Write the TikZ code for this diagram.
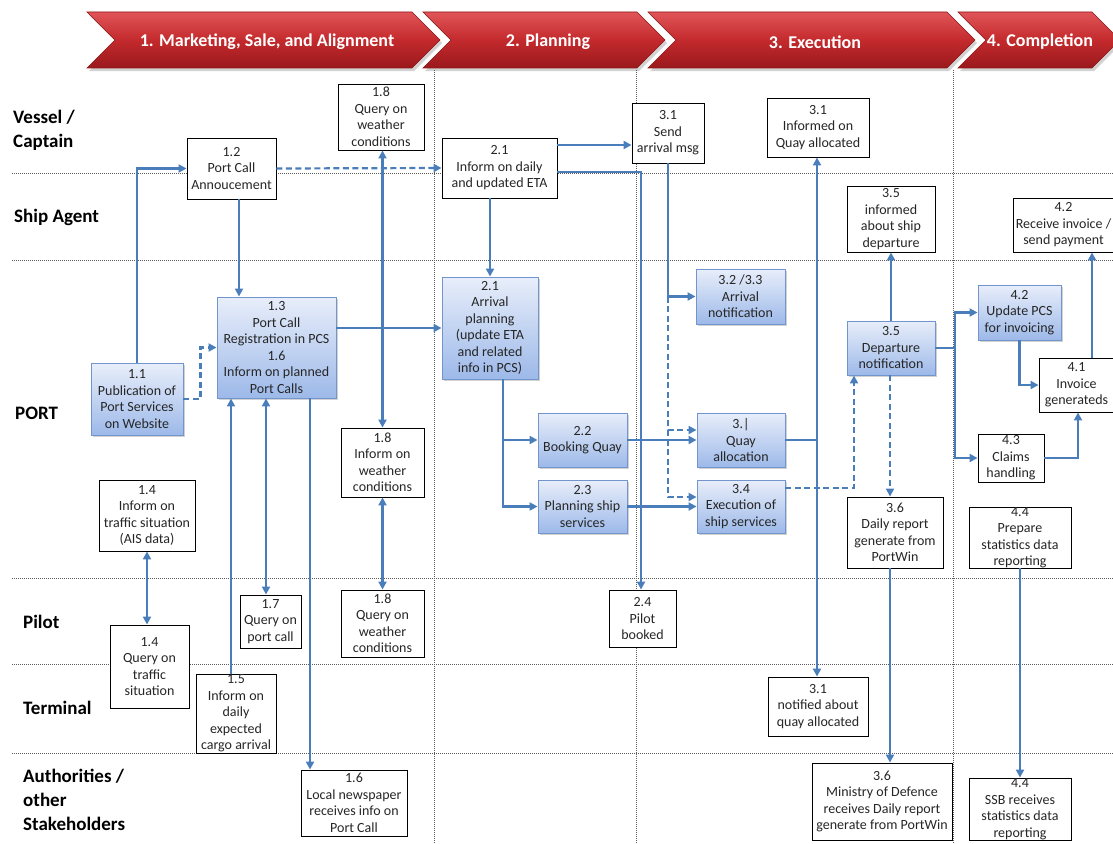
\documentclass[tikz,border=0pt]{standalone}
\usepackage{fontspec}
\setmainfont{Carlito}
\usetikzlibrary{arrows.meta,shadows,calc}
\definecolor{lineblue}{HTML}{4A7EBB}
\definecolor{bluetop}{HTML}{E8EEFA}
\definecolor{bluebot}{HTML}{9DB9E9}
\definecolor{bluebd}{HTML}{7195CC}
\definecolor{redtop}{HTML}{E05558}
\definecolor{redmid}{HTML}{C42A2D}
\definecolor{redbot}{HTML}{9A191C}
\definecolor{redbd}{HTML}{8E1518}
\definecolor{txt}{HTML}{262626}
\definecolor{lanegray}{HTML}{5A5A5A}
\tikzset{
  boxfont/.style={font=\fontsize{14}{16.5}\selectfont},
  wbox/.style={draw=black, line width=0.9pt, fill=white, align=center, inner sep=0pt, text=txt, boxfont},
  bbox/.style={draw=bluebd, line width=0.9pt, top color=bluetop, bottom color=bluebot, align=center, inner sep=0pt, text=txt, boxfont,
    drop shadow={shadow xshift=1.8pt, shadow yshift=-1.8pt, opacity=0.35, fill=gray}},
  conn/.style={draw=lineblue, line width=2.2pt, line join=miter, -{Triangle[length=8pt,width=8pt]}},
  conntwo/.style={draw=lineblue, line width=2.2pt, {Triangle[length=8pt,width=8pt]}-{Triangle[length=8pt,width=8pt]}},
  plainline/.style={draw=lineblue, line width=2.2pt, line join=miter},
  dconn/.style={conn, dash pattern=on 6pt off 3.5pt},
  laneline/.style={draw=lanegray, line width=0.8pt, dash pattern=on 1pt off 1pt},
  lanelabel/.style={font=\fontsize{19}{24}\selectfont\bfseries, anchor=west, align=left, inner sep=0pt, text=black},
  chevtext/.style={font=\fontsize{18}{20}\selectfont\bfseries, text=white, inner sep=0pt},
  chevshape/.style={top color=redtop, bottom color=redbot, middle color=redmid, draw=redbd, line width=0.6pt}
}
\newcommand\mkbox[7]{\node[#1, minimum width={(#5-#3)*1pt}, minimum height={(#6-#4)*1pt}] (#2) at ({(#3+#5)/2},{(#4+#6)/2}) {#7};}
\newcommand\mkchev[2]{%
  \fill[gray, opacity=0.35] ({#1+2},15) -- ({#2-26},15) -- ({#2+2},43) -- ({#2-26},71) -- ({#1+2},71) -- ({#1+30},43) -- cycle;
  \shade[chevshape] (#1,12) -- ({#2-28},12) -- (#2,40) -- ({#2-28},68) -- (#1,68) -- ({#1+28},40) -- cycle;}
\begin{document}
\begin{tikzpicture}[x=1pt,y=-1pt]
\useasboundingbox (0,0) rectangle (1113,843);
\fill[white] (0,0) rectangle (1113,843);
% chevrons
\mkchev{87}{440}
\mkchev{423}{665}
\mkchev{648}{975}
\mkchev{958}{1120}
\node[chevtext] (c1) at (267,42) {1. Marketing, Sale, and Alignment};
\node[chevtext] (c2) at (548,42) {2. Planning};
\node[chevtext] (c3) at (815,42) {3. Execution};
\node[chevtext] (c4) at (1040,42) {4. Completion};
% lanes
\draw[laneline] (12,173) -- (1113,173);
\draw[laneline] (12,260) -- (1113,260);
\draw[laneline] (12,578) -- (1113,578);
\draw[laneline] (12,664) -- (1113,664);
\draw[laneline] (12,753) -- (1113,753);
\draw[laneline] (434,70) -- (434,843);
\draw[laneline] (636,70) -- (636,843);
\draw[laneline] (953,70) -- (953,843);
\node[lanelabel] (lv) at (13,130) {Vessel /\\Captain};
\node[lanelabel] (ls) at (14,217) {Ship Agent};
\node[lanelabel] (lp) at (15,413) {PORT};
\node[lanelabel] (lpi) at (23,622) {Pilot};
\node[lanelabel] (lt) at (23,708) {Terminal};
\node[lanelabel] (la) at (23,800) {Authorities /\\other\\Stakeholders};
% boxes
\mkbox{wbox}{q18a}{338}{84}{424}{150}{1.8\\Query on\\weather\\conditions}
\mkbox{wbox}{n12}{187}{138}{276}{199}{1.2\\Port Call\\Annoucement}
\mkbox{wbox}{n21a}{442}{138}{557}{198}{2.1\\Inform on daily\\and updated ETA}
\mkbox{wbox}{n31s}{632}{103}{704}{163}{3.1\\Send\\arrival msg}
\mkbox{wbox}{n31i}{767}{98}{869}{157}{3.1\\Informed on\\Quay allocated}
\mkbox{wbox}{n35i}{847}{186}{935}{252}{3.5\\informed\\about ship\\departure}
\mkbox{wbox}{n42r}{1013}{198}{1114}{252}{4.2\\Receive invoice /\\send payment}
\mkbox{bbox}{n13}{217}{297}{336}{398}{1.3\\Port Call\\Registration in PCS\\1.6\\Inform on planned\\Port Calls}
\mkbox{bbox, inner ysep=-1pt}{n21b}{442}{277}{538}{379}{2.1\\Arrival\\planning\\(update ETA\\and related\\info in PCS)}
\mkbox{bbox}{n32}{696}{269}{785}{324}{3.2 /3.3\\Arrival\\notification}
\mkbox{bbox}{n35d}{847}{321}{935}{375}{3.5\\Departure\\notification}
\mkbox{bbox}{n42u}{978}{285}{1061}{340}{4.2\\Update PCS\\for invoicing}
\mkbox{wbox}{n41}{1039}{358}{1114}{412}{4.1\\Invoice\\generateds}
\mkbox{bbox}{n11}{91}{363}{183}{435}{1.1\\Publication of\\Port Services\\on Website}
\mkbox{bbox}{n22}{538}{413}{627}{467}{2.2\\Booking Quay}
\mkbox{bbox}{n3q}{697}{413}{785}{467}{3.|\\Quay\\allocation}
\mkbox{bbox}{n23}{538}{480}{627}{533}{2.3\\Planning ship\\services}
\mkbox{bbox}{n34}{697}{480}{785}{533}{3.4\\Execution of\\ship services}
\mkbox{wbox, inner ysep=-3pt}{n43}{978}{434}{1044}{482}{4.3\\Claims\\handling}
\mkbox{wbox}{n18p}{341}{428}{424}{497}{1.8\\Inform on\\weather\\conditions}
\mkbox{wbox}{n14i}{99}{480}{195}{551}{1.4\\Inform on\\traffic situation\\(AIS data)}
\mkbox{wbox}{n36d}{847}{497}{943}{568}{3.6\\Daily report\\generate from\\PortWin}
\mkbox{wbox, inner ysep=-4pt}{n44p}{969}{507}{1071}{568}{4.4\\Prepare\\statistics data\\reporting}
\mkbox{wbox}{n17}{240}{595}{301}{648}{1.7\\Query on\\port call}
\mkbox{wbox}{n18q}{341}{590}{424}{657}{1.8\\Query on\\weather\\conditions}
\mkbox{wbox}{n24}{609}{590}{676}{647}{2.4\\Pilot\\booked}
\mkbox{wbox}{n14q}{110}{625}{189}{708}{1.4\\Query on\\traffic\\situation}
\mkbox{wbox, inner ysep=-3pt}{n15}{196}{674}{276}{753}{1.5\\Inform on\\daily\\expected\\cargo arrival}
\mkbox{wbox}{n31n}{768}{677}{868}{736}{3.1\\notified about\\quay allocated}
\mkbox{wbox}{n16}{301}{770}{407}{836}{1.6\\Local newspaper\\receives info on\\Port Call}
\mkbox{wbox}{n36m}{812}{763}{952}{840}{3.6\\Ministry of Defence\\receives Daily report\\generate from PortWin}
\mkbox{wbox, inner ysep=-2pt}{n44s}{969}{778}{1071}{840}{4.4\\SSB receives\\statistics data\\reporting}
% helper coordinates
\coordinate (xa) at (231,0);
\coordinate (xb) at (239,0);
\coordinate (xc) at (266,0);
\coordinate (xd) at (310,0);
\coordinate (xe) at (503,0);
\coordinate (xf) at (668,0);
\coordinate (xg) at (817,0);
\coordinate (xh) at (854,0);
\coordinate (xi) at (890,0);
\coordinate (xj) at (955,0);
\coordinate (xk) at (1092,0);
\coordinate (xl) at (1078,0);
\coordinate (xm) at (641,0);
\coordinate (ya) at (0,145);
\coordinate (yb) at (0,172);
\coordinate (yc) at (0,430);
\coordinate (yd) at (0,497);
\coordinate (ye) at (0,488);
% connectors
\draw[conn] (n11.north) |- (n12.west);
\draw[dconn] (n11.east) -- ++(17,0) |- (n13.west);
\draw[conn] (n12.south -| xb) -- (n13.north -| xb);
\draw[dconn] (n12.east) -- (n21a.west);
\draw[conn] (n13.east |- n21b.west) -- (n21b.west);
\draw[conntwo] (q18a.south -| n18p.north) -- (n18p.north);
\draw[conntwo] (n18p.south) -- (n18q.north);
\draw[conntwo] (n14i.south) -- (n14i.south |- n14q.north);
\draw[conn] (n15.north -| xa) -- (n13.south -| xa);
\draw[conntwo] (n13.south -| xc) -- (n17.north -| xc);
\draw[conn] (n13.south -| xd) -- (n16.north -| xd);
\draw[conn] (n21a.south -| n21b.north) -- (n21b.north);
\draw[conn] (n21a.east |- ya) -- (n31s.west |- ya);
\draw[conn] (n21a.east |- yb) -| (n24.north -| xm);
\draw[conn] (n31s.south -| xf) |- (n32.west);
\draw[dconn] (xf |- n32.west) |- (n3q.west |- yc);
\draw[dconn] (xf |- yc) |- (n34.west |- yd);
\draw[conn] (n21b.south -| xe) |- (n23.west);
\draw[conn] (xe |- n22.west) -- (n22.west);
\draw[conn] (n22.east) -- (n3q.west);
\draw[conn] (n23.east) -- (n34.west);
\draw[plainline] (n3q.east) -- (n3q.east -| xg);
\draw[conntwo] (n31i.south -| xg) -- (n31n.north -| xg);
\draw[dconn] (n34.east |- ye) -| (n35d.south -| xh);
\draw[dconn] (n35d.south -| xi) -- (n36d.north -| xi);
\draw[conn] (n35d.north) -- (n35i.south);
\draw[plainline] (n35d.east) -- (xj |- n35d.east);
\draw[conn] (xj |- n35d.east) |- (n42u.west);
\draw[conn] (xj |- n35d.east) |- (n43.west);
\draw[conn] (n42u.south) |- (n41.west);
\draw[conn] (n41.north -| xk) -- (n42r.south -| xk);
\draw[conn] (n43.east) -| (n41.south -| xl);
\draw[conn] (n36d.south -| xi) -- (n36m.north -| xi);
\draw[conn] (n44p.south) -- (n44s.north);
\end{tikzpicture}
\end{document}
